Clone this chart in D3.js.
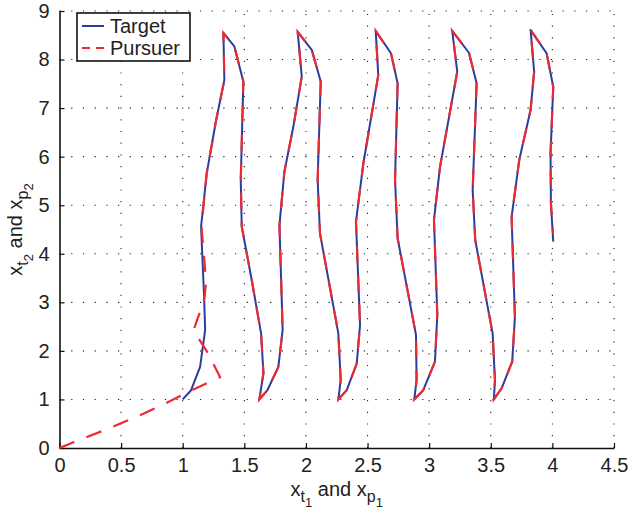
<!DOCTYPE html>
<html>
<head>
<meta charset="utf-8">
<script src="https://cdn.jsdelivr.net/npm/d3@7"></script>
<style>
  body { margin: 0; background: #fff; }
  svg { display: block; font-family: "Liberation Sans", Arial, Helvetica, sans-serif; }
</style>
</head>
<body>
<script>
/* Data */
var xTicks = [0, 0.5, 1, 1.5, 2, 2.5, 3, 3.5, 4, 4.5],
	yTicks = [0, 1, 2, 3, 4, 5, 6, 7, 8, 9];

// target trajectory (solid blue)
var targetX = [1.000, 1.068, 1.141, 1.182, 1.174, 1.149, 1.195, 1.271, 1.338, 1.330,
	1.419, 1.492, 1.471, 1.479, 1.560, 1.636, 1.655, 1.622,
	1.687, 1.776, 1.811, 1.785, 1.825, 1.898, 1.966, 1.933,
	2.047, 2.120, 2.095, 2.114, 2.263, 2.282, 2.263,
	2.331, 2.412, 2.439, 2.406, 2.466, 2.587, 2.566,
	2.690, 2.744, 2.723, 2.744, 2.893, 2.898, 2.879,
	2.952, 3.047, 3.066, 3.039, 3.088, 3.228, 3.187,
	3.323, 3.385, 3.353, 3.374, 3.515, 3.534, 3.525,
	3.588, 3.674, 3.696, 3.669, 3.731, 3.823, 3.852, 3.823,
	3.953, 4.007, 3.985, 3.988, 4.007];
var targetY = [1.00, 1.19, 1.67, 2.43, 3.08, 4.56, 5.66, 6.75, 7.58, 8.55,
	8.27, 7.55, 5.52, 4.56, 3.46, 2.36, 1.54, 1.00,
	1.19, 1.67, 2.43, 4.59, 5.69, 6.62, 7.65, 8.57,
	8.20, 7.55, 5.52, 4.42, 2.36, 1.40, 1.00,
	1.19, 1.74, 2.53, 4.66, 5.86, 7.68, 8.59,
	8.13, 7.51, 5.52, 4.32, 2.33, 1.40, 1.00,
	1.19, 1.78, 2.74, 4.70, 5.79, 7.75, 8.59,
	8.14, 7.51, 5.31, 4.28, 2.36, 1.40, 1.00,
	1.23, 1.78, 2.70, 4.76, 5.93, 6.96, 7.75, 8.61,
	8.13, 7.44, 6.07, 5.04, 4.25];

// pursuer trajectory (dashed red)
var pursuerX = [0.000, 0.114, 0.357, 0.614, 0.844, 1.074, 1.303, 1.208, 1.087, 1.141, 1.176, 1.190, 1.152, 1.195, 1.271, 1.338, 1.330,
	1.419, 1.492, 1.471, 1.479, 1.560, 1.636, 1.655, 1.622,
	1.687, 1.776, 1.811, 1.785, 1.825, 1.898, 1.966, 1.933,
	2.047, 2.120, 2.095, 2.114, 2.263, 2.282, 2.263,
	2.331, 2.412, 2.439, 2.406, 2.466, 2.587, 2.566,
	2.690, 2.744, 2.723, 2.744, 2.893, 2.898, 2.879,
	2.952, 3.047, 3.066, 3.039, 3.088, 3.228, 3.187,
	3.323, 3.385, 3.353, 3.374, 3.515, 3.534, 3.525,
	3.588, 3.674, 3.696, 3.669, 3.731, 3.823, 3.852, 3.823,
	3.953, 4.007, 3.985, 3.988, 4.005];
var pursuerY = [0.00, 0.12, 0.36, 0.63, 0.90, 1.19, 1.46, 1.94, 2.42, 2.81, 3.08, 3.42, 4.56, 5.66, 6.75, 7.58, 8.55,
	8.27, 7.55, 5.52, 4.56, 3.46, 2.36, 1.54, 1.00,
	1.19, 1.67, 2.43, 4.59, 5.69, 6.62, 7.65, 8.57,
	8.20, 7.55, 5.52, 4.42, 2.36, 1.40, 1.00,
	1.19, 1.74, 2.53, 4.66, 5.86, 7.68, 8.59,
	8.13, 7.51, 5.52, 4.32, 2.33, 1.40, 1.00,
	1.19, 1.78, 2.74, 4.70, 5.79, 7.75, 8.59,
	8.14, 7.51, 5.31, 4.28, 2.36, 1.40, 1.00,
	1.23, 1.78, 2.70, 4.76, 5.93, 6.96, 7.75, 8.61,
	8.13, 7.44, 6.07, 5.04, 4.43];

var blue = "#2e3d9b", red = "#ec2a33";

/* Display setup */
var width = 630, height = 513,
	plot = {left: 59.5, right: 614, top: 11, bottom: 448},
	svg = d3.select("body").append("svg")
		.attr("width", width)
		.attr("height", height),
	x = d3.scaleLinear().domain([0, 4.5]).range([plot.left, plot.right]),
	y = d3.scaleLinear().domain([0, 9]).range([plot.bottom, plot.top]);

// dotted grid
var grid = svg.append("g")
	.attr("stroke", "#222")
	.attr("stroke-width", 1.1)
	.attr("stroke-dasharray", "1.2,10.5");

grid.selectAll("line.gx")
	.data(xTicks.filter(function(d) { return d > 0; }))
	.enter().append("line")
		.attr("class", "gx")
		.attr("x1", function(d) { return x(d); })
		.attr("x2", function(d) { return x(d); })
		.attr("y1", plot.bottom)
		.attr("y2", plot.top);

grid.selectAll("line.gy")
	.data(yTicks.filter(function(d) { return d > 0; }))
	.enter().append("line")
		.attr("class", "gy")
		.attr("x1", plot.left)
		.attr("x2", plot.right)
		.attr("y1", function(d) { return y(d); })
		.attr("y2", function(d) { return y(d); });

/* Axes (MATLAB style, ticks inside, box off) */
var xAxis = d3.axisBottom(x)
	.tickValues(xTicks)
	.tickFormat(d3.format("~g"))
	.tickSizeInner(-5)
	.tickSizeOuter(0)
	.tickPadding(10);

var yAxis = d3.axisLeft(y)
	.tickValues(yTicks)
	.tickFormat(d3.format("~g"))
	.tickSizeInner(-5)
	.tickSizeOuter(0)
	.tickPadding(10);

var gx = svg.append("g")
	.attr("transform", "translate(0," + plot.bottom + ")")
	.call(xAxis);
var gy = svg.append("g")
	.attr("transform", "translate(" + plot.left + ",0)")
	.call(yAxis);

[gx, gy].forEach(function(g) {
	g.select(".domain").attr("stroke", "#111").attr("stroke-width", 1.6);
	g.selectAll(".tick line").attr("stroke", "#111").attr("stroke-width", 1.2);
	g.selectAll(".tick text")
		.attr("fill", "#222")
		.style("font-size", "20px")
		.style("font-family", "'Liberation Sans', Arial, sans-serif");
});

/* Trajectories */
var line = d3.line()
	.x(function(d) { return x(d[0]); })
	.y(function(d) { return y(d[1]); });

var target = targetX.map(function(v, i) { return [v, targetY[i]]; }),
	pursuer = pursuerX.map(function(v, i) { return [v, pursuerY[i]]; });

svg.append("path")
	.datum(target)
	.attr("d", line)
	.attr("fill", "none")
	.attr("stroke", blue)
	.attr("stroke-width", 2)
	.attr("stroke-linejoin", "round");

svg.append("path")
	.datum(pursuer)
	.attr("d", line)
	.attr("fill", "none")
	.attr("stroke", red)
	.attr("stroke-width", 2.2)
	.attr("stroke-dasharray", "16,13");

/* Axis labels with subscripts */
function subLabel(g, base, sub, subsub, rest, base2, sub2, subsub2) {
	var t = g.append("text")
		.attr("text-anchor", "middle")
		.attr("fill", "#222")
		.style("font-size", "20px");
	t.append("tspan").text(base);
	t.append("tspan").attr("dy", 6).style("font-size", "16px").text(sub);
	t.append("tspan").attr("dy", 5).style("font-size", "13px").text(subsub);
	t.append("tspan").attr("dy", -11).text(rest);
	t.append("tspan").text(base2);
	t.append("tspan").attr("dy", 6).style("font-size", "16px").text(sub2);
	t.append("tspan").attr("dy", 5).style("font-size", "13px").text(subsub2);
	return t;
}

subLabel(svg.append("g").attr("transform", "translate(" + ((plot.left + plot.right) / 2) + ",496)"),
	"x", "t", "1", " and ", "x", "p", "1");

subLabel(svg.append("g").attr("transform", "translate(22," + ((plot.top + plot.bottom) / 2) + ") rotate(-90)"),
	"x", "t", "2", " and ", "x", "p", "2");

/* Legend */
var legend = svg.append("g");
legend.append("rect")
	.attr("x", 77).attr("y", 13)
	.attr("width", 113).attr("height", 48)
	.attr("fill", "#fff")
	.attr("stroke", "#111")
	.attr("stroke-width", 1.6);

var legendItems = [
	{name: "Target", color: blue, dash: null},
	{name: "Pursuer", color: red, dash: "8,6"}
];

legendItems.forEach(function(d, i) {
	var ly = 26 + i * 22;
	legend.append("line")
		.attr("x1", 82).attr("x2", 104)
		.attr("y1", ly).attr("y2", ly)
		.attr("stroke", d.color)
		.attr("stroke-width", 2)
		.attr("stroke-dasharray", d.dash);
	legend.append("text")
		.attr("x", 110).attr("y", ly + 7)
		.attr("fill", "#222")
		.style("font-size", "20px")
		.text(d.name);
});
</script>
</body>
</html>
